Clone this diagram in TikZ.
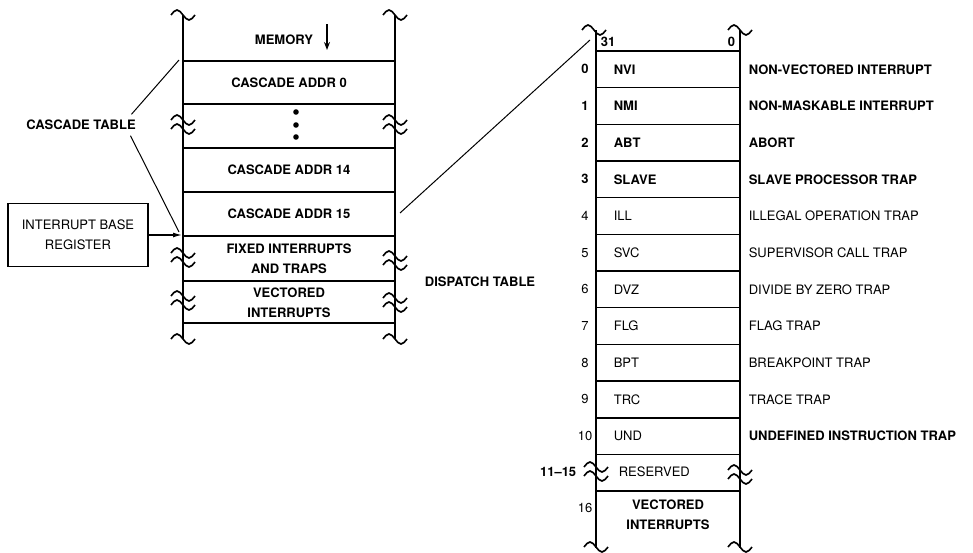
\documentclass[tikz,border=0pt]{standalone}
\usepackage{fontspec}
\setmainfont{TeX Gyre Heros}
\usetikzlibrary{arrows.meta}

\tikzset{
  heavy/.style={font=\fontsize{13}{20}\selectfont\bfseries, inner sep=0pt, align=center},
  light/.style={font=\fontsize{13}{20}\selectfont, inner sep=0pt, align=center},
}
% break marks on the table sides
\newcommand{\wave}[2]{\draw[line width=1.6pt] ({#1-12},{#2}) sin ({#1-6},{#2-5}) cos ({#1},{#2}) sin ({#1+6},{#2+5}) cos ({#1+12},{#2});}
\newcommand{\brk}[2]{\wave{#1}{#2}\wave{#1}{#2+9}}

\begin{document}
\begin{tikzpicture}[x=1pt,y=-1pt,line width=1.6pt]
  \useasboundingbox (0,0) rectangle (973,552);

  % memory
  \draw (183,15) -- (183,339);
  \draw (395,15) -- (395,339);
  \foreach \y in {61,104,148,192,236,281,323} \draw (183,\y) -- (395,\y);
  \wave{183}{15} \wave{395}{15}
  \brk{183}{120} \brk{395}{120}
  \brk{183}{253} \brk{395}{256}
  \brk{183}{296} \brk{395}{298}
  \wave{183}{339} \wave{395}{339}

  \node[heavy] (mem) at (284,40) {MEMORY};
  \draw[line width=1.2pt,-{Stealth[length=8pt,width=6pt]}] (327,24) -- (327,50);
  \node[heavy] (ca0) at (289,83) {CASCADE ADDR 0};
  \foreach \y in {112,125,137} \fill (296,\y) circle (2.8);
  \node[heavy] (ca14) at (289,170) {CASCADE ADDR 14};
  \node[heavy] (ca15) at (289,214) {CASCADE ADDR 15};
  \node[heavy] (fixed) at (289,259) {FIXED INTERRUPTS\\AND TRAPS};
  \node[heavy] (vect) at (289,303) {VECTORED\\INTERRUPTS};

  \node[heavy,inner sep=3pt] (ct) at (81,125) {CASCADE TABLE};
  \coordinate (cttop) at (179,60);
  \coordinate (ctbot) at (179,232);
  \draw[line width=1pt] ([xshift=-8pt,yshift=2pt]ct.north east) -- (cttop);
  \draw[line width=1pt] ([xshift=-9pt,yshift=-2pt]ct.south east) -- (ctbot);

  \node[light,draw,minimum width=140pt,minimum height=63pt] (ibr) at (78,235)
    {INTERRUPT BASE\\REGISTER};
  \coordinate (base) at (182,235);
  \draw[line width=1.3pt,-{Latex[length=9pt,width=5pt]}] (ibr.east) -- (base);

  \node[heavy] (dt) at (480,282) {DISPATCH TABLE};
  \coordinate (dsrc) at (400,213);
  \coordinate (ddst) at (590,40);
  \draw[line width=1pt] (dsrc) -- (ddst);

  % dispatch table
  \draw (596,30) -- (596,548);
  \draw (740,30) -- (740,548);
  \foreach \k in {0,...,12} \draw (596,{51+36.67*\k}) -- (740,{51+36.67*\k});
  \wave{594}{30} \wave{740}{30}
  \brk{596}{467} \brk{740}{470}
  \wave{596}{547} \wave{740}{547}

  \node[heavy,anchor=west] (hi) at (600,42) {31};
  \node[heavy,anchor=east] (lo) at (736,42) {0};

  \foreach \k/\code/\desc/\wt/\dw in {
      0/NVI/NON-VECTORED INTERRUPT/heavy/heavy,
      1/NMI/NON-MASKABLE INTERRUPT/heavy/heavy,
      2/ABT/ABORT/heavy/heavy,
      3/SLAVE/SLAVE PROCESSOR TRAP/heavy/heavy,
      4/ILL/ILLEGAL OPERATION TRAP/light/light,
      5/SVC/SUPERVISOR CALL TRAP/light/light,
      6/DVZ/DIVIDE BY ZERO TRAP/light/light,
      7/FLG/FLAG TRAP/light/light,
      8/BPT/BREAKPOINT TRAP/light/light,
      9/TRC/TRACE TRAP/light/light,
      10/UND/UNDEFINED INSTRUCTION TRAP/light/heavy} {
    \node[\wt] (num\k) at (585,{69.33+36.67*\k}) {\k};
    \node[\wt,anchor=west] (code\k) at (613,{69.33+36.67*\k}) {\code};
    \node[\dw,anchor=west] (desc\k) at (748,{69.33+36.67*\k}) {\desc};
  }
  \node[heavy,anchor=east] (num11) at (577,472) {11--15};
  \node[light,anchor=west] (code11) at (618,472) {RESERVED};
  \node[light] (num12) at (585,508) {16};
  \node[heavy] (code12) at (668,515) {VECTORED\\INTERRUPTS};
\end{tikzpicture}
\end{document}
